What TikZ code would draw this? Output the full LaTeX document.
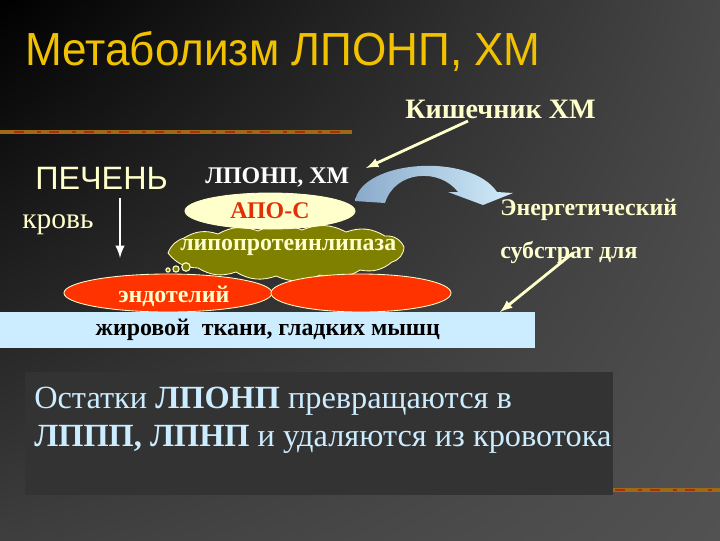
\documentclass[tikz,border=0pt]{standalone}
\usepackage{fontspec}
\setmainfont{Liberation Serif}
\setsansfont{Liberation Sans}
\newfontfamily\titlefont{Liberation Sans}[FakeStretch=0.95]
\usetikzlibrary{positioning,shapes,arrows,shadings}
\definecolor{titlec}{HTML}{F2C200}
\definecolor{creamc}{HTML}{FFFFCC}
\definecolor{lightblue}{HTML}{CCECFF}
\definecolor{redc}{HTML}{FF3300}
\definecolor{apoc}{HTML}{E0300A}
\definecolor{olivec}{HTML}{7F7F00}
\definecolor{boxc}{HTML}{333333}
\definecolor{bgtr}{HTML}{474747}
\definecolor{bgbl}{HTML}{3E3E3E}
\definecolor{bgbr}{HTML}{525252}
\definecolor{barc}{HTML}{A06A14}
\definecolor{bardash}{HTML}{B02A10}
\definecolor{arrleft}{HTML}{8AAACB}
\definecolor{arrright}{HTML}{D2ECFA}

\begin{document}
\begin{tikzpicture}[x=0.025cm,y=-0.025cm]
\tikzstyle{txt}=[inner sep=0pt, anchor=base west]
\tikzstyle{cream}=[txt, text=creamc, font=\bfseries\fontsize{17}{20}\selectfont]
\tikzstyle{oval}=[ellipse, inner sep=0pt, draw=creamc, line width=0.6pt]
\tikzstyle{connect}=[-latex, creamc, line width=2pt]
\tikzstyle{bar}=[fill=barc]
\tikzstyle{bardots}=[bardash, line width=1.2pt, dash pattern=on 7pt off 9pt on 3pt off 6pt]
\useasboundingbox (0,0) rectangle (720,540);
\shade[upper left=black, upper right=bgtr, lower left=bgbl, lower right=bgbr] (0,0) rectangle (720,540);
% decorative bars
\fill[bar] (0,130) rectangle (352,134);
\draw[bardots] (14,132) -- (350,132);
\fill[bar] (608,488) rectangle (720,492);
\draw[bardots] (615,490) -- (720,490);

\node[txt, text=titlec, font=\titlefont\fontsize{33}{36}\selectfont] (title) at (25,65) {Метаболизм ЛПОНП, ХМ};
\node[txt, text=creamc, font=\bfseries\fontsize{20}{24}\selectfont] (gut) at (405,118) {Кишечник ХМ};
\node[txt, text=creamc, font=\sffamily\fontsize{23}{24}\selectfont] (liver) at (35,189) {ПЕЧЕНЬ};
\node[txt, text=creamc, font=\fontsize{21}{24}\selectfont] (blood) at (22,228) {кровь};
\node[txt, text=white, font=\bfseries\fontsize{17}{20}\selectfont] (vldl) at (205,183) {ЛПОНП, ХМ};

% cloud and ovals
\draw[creamc, fill=olivec, line width=0.6pt]
  (168,253) to[bend left=25] (184,238) to[bend left=25] (218,234) to[bend left=25] (258,231)
  to[bend left=25] (302,230) to[bend left=25] (346,232) to[bend left=25] (385,236)
  to[bend left=35] (404,247) to[bend left=35] (392,262) to[bend left=25] (360,270)
  to[bend left=25] (320,275) to[bend left=25] (276,276) to[bend left=25] (236,272)
  to[bend left=25] (198,268) to[bend left=25] (168,253);
\draw[creamc, fill=olivec, line width=0.8pt] (168,270) circle (1.5pt) (176,269) circle (2.2pt) (186,267) circle (3pt);
\node[oval, fill=creamc, minimum width=4.25cm, minimum height=0.9cm] (apo) at (270,211)
      {\textcolor{apoc}{\bfseries\fontsize{17}{20}\selectfont АПО-С}};
\node[cream] (lpl) at (180,250) {липопротеинлипаза};
\node[oval, fill=redc, minimum width=5.2cm, minimum height=0.95cm] (endo1) at (168,293) {};
\node[oval, fill=redc, minimum width=4.5cm, minimum height=0.95cm] (endo2) at (361,293) {};
\node[cream] (endo) at (118,302) {эндотелий};

\node[fill=lightblue, inner sep=0pt, anchor=north west, minimum width=13.375cm, minimum height=0.9cm,
      font=\bfseries\fontsize{17}{20}\selectfont] (fat) at (0,312) {жировой\ \ ткани, гладких мышц};

\node[cream] (energy) at (500,215) {Энергетический};
\node[cream] (substr) at (500,258) {субстрат для};

% curved block arrow
\shade[left color=arrleft, right color=arrright]
  (355,201) .. controls (362,160) and (470,152) .. (497,192) -- (513,193) -- (483,205) -- (448,192) -- (458,192)
  .. controls (440,168) and (395,170) .. (385,203) -- cycle;

% remnants box
\node[fill=boxc, inner sep=0pt, anchor=north west, minimum width=14.7cm, minimum height=3.075cm] (rembox) at (25,372) {};
\node[txt, text=lightblue, font=\fontsize{23}{26}\selectfont] (rem1) at (34,408) {Остатки \textbf{ЛПОНП} превращаются в};
\node[txt, text=lightblue, font=\fontsize{23}{26}\selectfont] (rem2) at (34,446) {\textbf{ЛППП, ЛПНП} и удаляются из кровотока};

% arrows
\coordinate (gut_end) at (468,121);
\coordinate (vldl_tip) at (366,168);
\coordinate (liver_start) at (120,198);
\coordinate (liver_end) at (120,258);
\coordinate (substr_start) at (573,253);
\coordinate (fat_tip) at (500,312);
\path
	(gut_end) edge[connect] (vldl_tip)
	(liver_start) edge[connect, white] (liver_end)
	(substr_start) edge[connect] (fat_tip);
\end{tikzpicture}
\end{document}
